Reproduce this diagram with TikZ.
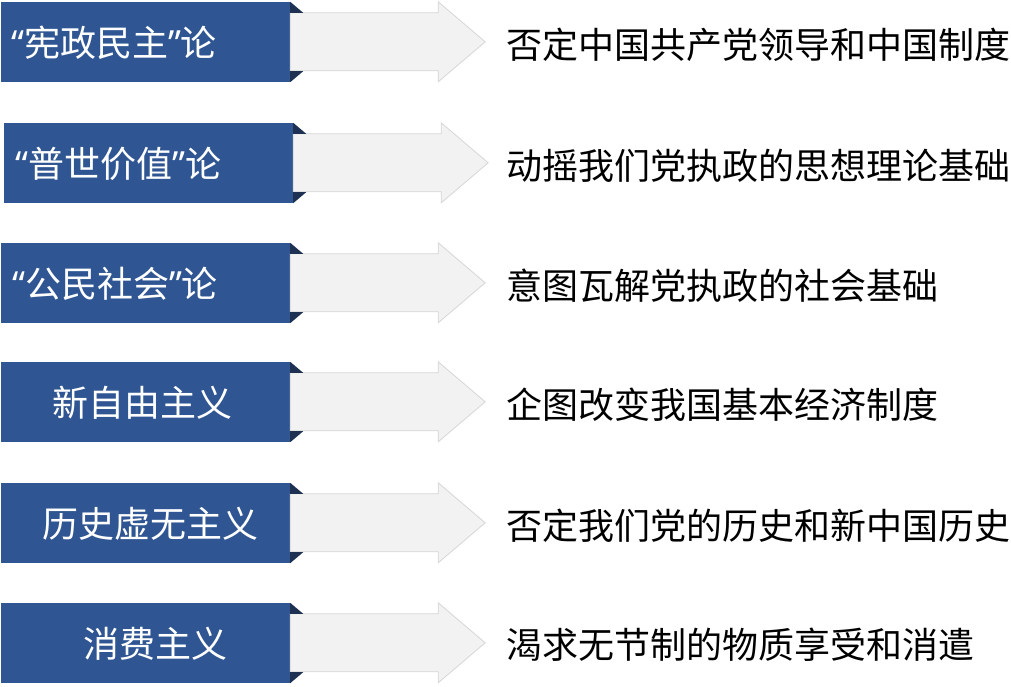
\documentclass[tikz,border=0pt]{standalone}
\usepackage{fontspec}
\setmainfont{Noto Sans CJK SC}
\newfontfamily\quotefont{Noto Sans}
\newcommand{\openq}{{\quotefont “}}
\newcommand{\closeq}{{\quotefont ”}}
\definecolor{boxblue}{HTML}{2F5592}
\definecolor{folddark}{HTML}{1E3152}
\definecolor{arrowfill}{HTML}{F2F2F2}
\definecolor{arrowline}{HTML}{D6D6D6}
\begin{document}
\begin{tikzpicture}[
      x=1pt, y=-1pt,
      every node/.style={font=\fontsize{36pt}{40pt}\selectfont},
      box/.style={rectangle, fill=boxblue, minimum width=289pt, minimum height=80pt, inner sep=0pt},
      boxtext/.style={text=white, inner sep=0pt},
      reason/.style={anchor=west, text=black, inner sep=0pt},
      arrowbody/.style={fill=arrowfill, draw=arrowline, line width=0.8pt},
      fold/.style={fill=folddark}
  ]
  \useasboundingbox (0,0) rectangle (1011,686);

  % Blue boxes on the left
  \node[box] (b1) at (145.5,42) {};
  \node[box] (b2) at (148.5,163) {};
  \node[box] (b3) at (145.5,283) {};
  \node[box] (b4) at (145.5,402) {};
  \node[box] (b5) at (145.5,523) {};
  \node[box] (b6) at (145.5,643) {};

  % Block arrows with folded corners
  \foreach \n in {1,...,6}{
    \draw[arrowbody] ([yshift=-11pt]b\n.north east) -- ++(148,0) -- ++(0,-11)
      -- ++(47,40) -- ++(-47,40) -- ++(0,-11) -- ++(-148,0) -- cycle;
    \fill[fold] (b\n.north east) -- ++(13,11) -- ++(-13,0) -- cycle;
    \fill[fold] (b\n.south east) -- ++(13,-11) -- ++(-13,0) -- cycle;
  }

  % Box labels
  \node[boxtext] (t1) at (114,43) {\openq 宪政民主\closeq 论};
  \node[boxtext] (t2) at (118.5,164) {\openq 普世价值\closeq 论};
  \node[boxtext] (t3) at (115,284) {\openq 公民社会\closeq 论};
  \node[boxtext] (t4) at (142.5,403) {新自由主义};
  \node[boxtext] (t5) at (150.5,524) {历史虚无主义};
  \node[boxtext] (t6) at (155,644) {消费主义};

  % Descriptions on the right
  \node[reason] (d1) at (506,45) {否定中国共产党领导和中国制度};
  \node[reason] (d2) at (506,166) {动摇我们党执政的思想理论基础};
  \node[reason] (d3) at (506,286) {意图瓦解党执政的社会基础};
  \node[reason] (d4) at (506,405) {企图改变我国基本经济制度};
  \node[reason] (d5) at (506,526) {否定我们党的历史和新中国历史};
  \node[reason] (d6) at (506,645) {渴求无节制的物质享受和消遣};

\end{tikzpicture}
\end{document}
